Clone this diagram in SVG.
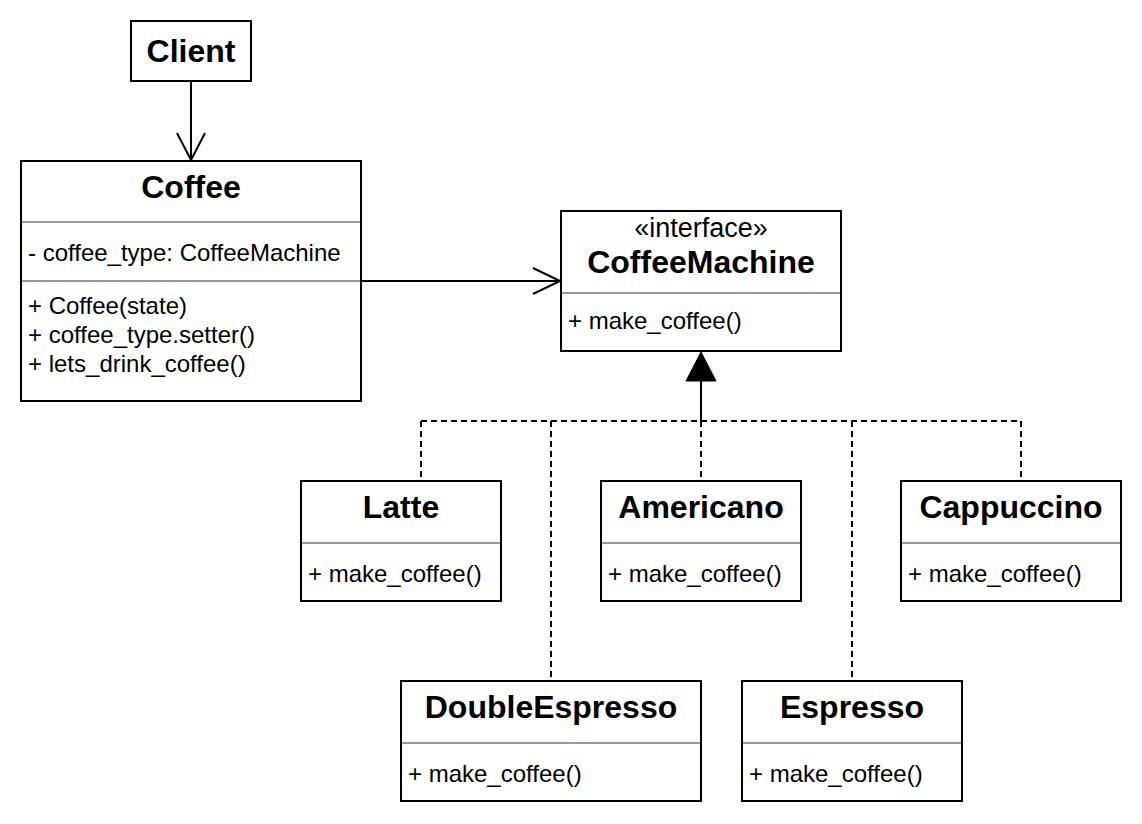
<svg xmlns="http://www.w3.org/2000/svg" width="1142" height="824" viewBox="0 0 1142 824">
  <style>
    .box { fill: #ffffff; stroke: #000000; stroke-width: 2; }
    .div { stroke: #999999; stroke-width: 2; fill: none; }
    .title { font-family: "Liberation Sans", Arial, sans-serif; font-weight: bold; font-size: 32px; fill: #000000; text-anchor: middle; }
    .txt { font-family: "Liberation Sans", Arial, sans-serif; font-size: 24px; fill: #000000; }
    .ster { font-family: "Liberation Sans", Arial, sans-serif; font-size: 27px; fill: #000000; text-anchor: middle; }
    .edge { stroke: #000000; stroke-width: 2; fill: none; }
    .dash { stroke: #000000; stroke-width: 2; fill: none; stroke-dasharray: 6 4; }
  </style>
  <rect width="1142" height="824" fill="#ffffff"/>

  <g id="connectors">
    <!-- Client -> Coffee -->
    <line class="edge" x1="191" y1="81" x2="191" y2="160"/>
    <polyline class="edge" points="177,133 191,160 205,133"/>
    <!-- Coffee -> CoffeeMachine -->
    <line class="edge" x1="361" y1="281" x2="560" y2="281"/>
    <polyline class="edge" points="533,268 560,281 533,294"/>
    <!-- realization tree -->
    <line class="edge" x1="701" y1="380" x2="701" y2="421"/>
    <polygon points="701,352 686,381 716,381" fill="#000000" stroke="#000000" stroke-width="1"/>
    <line class="dash" x1="421" y1="421" x2="1021" y2="421"/>
    <line class="dash" x1="421" y1="421" x2="421" y2="481"/>
    <line class="dash" x1="551" y1="421" x2="551" y2="681"/>
    <line class="dash" x1="701" y1="421" x2="701" y2="481"/>
    <line class="dash" x1="852" y1="421" x2="852" y2="681"/>
    <line class="dash" x1="1021" y1="421" x2="1021" y2="481"/>
  </g>

  <g id="client">
    <rect class="box" x="131" y="21" width="120" height="60"/>
    <text class="title" x="191" y="62">Client</text>
  </g>

  <g id="coffee">
    <rect class="box" x="21" y="161" width="340" height="240"/>
    <text class="title" x="191" y="198">Coffee</text>
    <line class="div" x1="22" y1="222" x2="360" y2="222"/>
    <text class="txt" x="28" y="261">- coffee_type: CoffeeMachine</text>
    <line class="div" x1="22" y1="281" x2="360" y2="281"/>
    <text class="txt" x="28" y="314">+ Coffee(state)</text>
    <text class="txt" x="28" y="343">+ coffee_type.setter()</text>
    <text class="txt" x="28" y="372">+ lets_drink_coffee()</text>
  </g>

  <g id="coffeemachine">
    <rect class="box" x="561" y="211" width="280" height="140"/>
    <text class="ster" x="701" y="237">«interface»</text>
    <text class="title" x="701" y="273">CoffeeMachine</text>
    <line class="div" x1="562" y1="293" x2="840" y2="293"/>
    <text class="txt" x="568" y="329">+ make_coffee()</text>
  </g>

  <g id="latte">
    <rect class="box" x="301" y="481" width="200" height="120"/>
    <text class="title" x="401" y="518">Latte</text>
    <line class="div" x1="302" y1="543" x2="500" y2="543"/>
    <text class="txt" x="308" y="582">+ make_coffee()</text>
  </g>

  <g id="americano">
    <rect class="box" x="601" y="481" width="200" height="120"/>
    <text class="title" x="701" y="518">Americano</text>
    <line class="div" x1="602" y1="543" x2="800" y2="543"/>
    <text class="txt" x="608" y="582">+ make_coffee()</text>
  </g>

  <g id="cappuccino">
    <rect class="box" x="901" y="481" width="220" height="120"/>
    <text class="title" x="1011" y="518">Cappuccino</text>
    <line class="div" x1="902" y1="543" x2="1120" y2="543"/>
    <text class="txt" x="908" y="582">+ make_coffee()</text>
  </g>

  <g id="doubleespresso">
    <rect class="box" x="401" y="681" width="300" height="120"/>
    <text class="title" x="551" y="718">DoubleEspresso</text>
    <line class="div" x1="402" y1="743" x2="700" y2="743"/>
    <text class="txt" x="408" y="782">+ make_coffee()</text>
  </g>

  <g id="espresso">
    <rect class="box" x="742" y="681" width="220" height="120"/>
    <text class="title" x="852" y="718">Espresso</text>
    <line class="div" x1="743" y1="743" x2="961" y2="743"/>
    <text class="txt" x="749" y="782">+ make_coffee()</text>
  </g>
</svg>
